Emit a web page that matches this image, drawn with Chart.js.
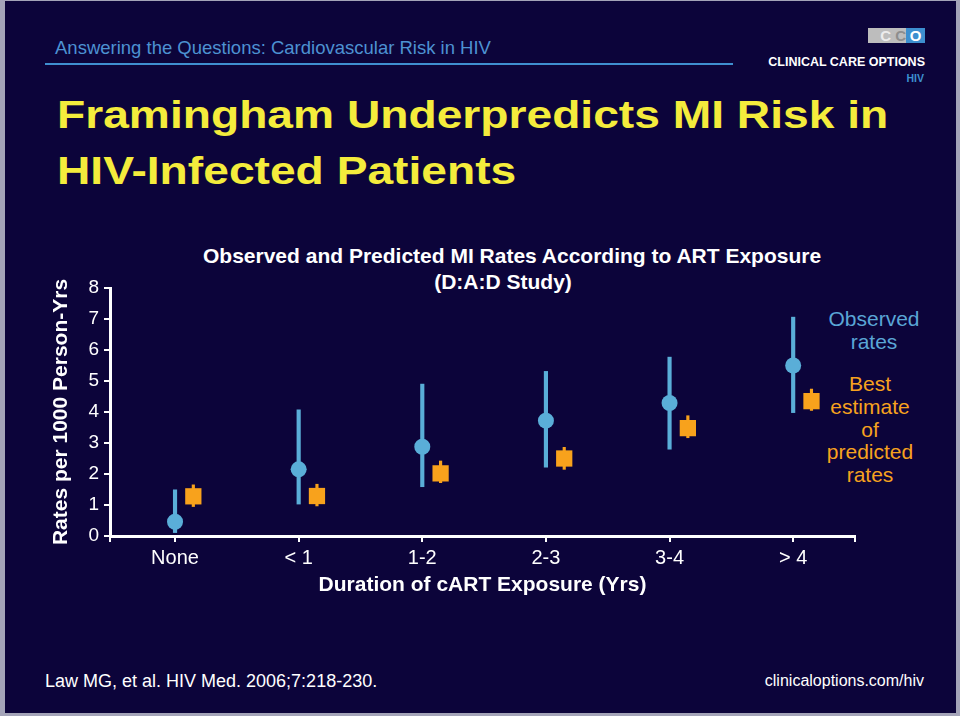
<!DOCTYPE html>
<html>
<head>
<meta charset="utf-8">
<title>Framingham Underpredicts MI Risk in HIV-Infected Patients</title>
<script src="https://cdn.jsdelivr.net/npm/chart.js@4/dist/chart.umd.min.js"></script>
<style>
  html, body { margin: 0; padding: 0; }
  body {
    width: 960px; height: 716px; position: relative; overflow: hidden;
    background: #a4a4b8;
    font-family: 'Liberation Sans', Arial, Helvetica, sans-serif;
  }
  .slide { position: absolute; left: 5px; top: 1px; width: 951px; height: 712px; background: #0c043a; }
  .abs { position: absolute; white-space: nowrap; }
  #header { left: 55px; top: 37px; font-size: 18.5px; line-height: 22px; color: #4d92d2; }
  #headerLine { left: 45px; top: 63px; width: 688px; height: 2px; background: #3f8fd0; }
  #title {
    left: 57px; top: 87px; font-size: 38px; line-height: 56px; font-weight: bold; color: #f4ec3c;
    transform: scaleX(1.215); transform-origin: left top;
  }
  #chartTitle {
    left: 203px; top: 243px; width: 600px; text-align: center;
    font-size: 21px; line-height: 26px; font-weight: bold; color: #ffffff;
  }
  .legendText { width: 130px; text-align: center; font-size: 21px; line-height: 23px; }
  #legObs { left: 809px; top: 307px; color: #5aa6d6; }
  #legPred { left: 805px; top: 373px; color: #f7a21e; line-height: 22.8px; }
  #footLeft { left: 45px; top: 670px; font-size: 18px; line-height: 22px; color: #ffffff; }
  #footRight { right: 36px; top: 670px; font-size: 16px; line-height: 22px; color: #ffffff; }
  #logoGray { left: 868px; top: 28px; width: 38px; height: 15px; background: #bdbdbd;
    font-size: 15px; line-height: 15px; font-weight: bold; text-align: right; }
  #logoBlue { left: 906px; top: 28px; width: 19px; height: 15px; background: #3d8fcf;
    font-size: 15px; line-height: 15px; font-weight: bold; color: #ffffff; text-align: center; }
  #logoText { right: 35px; top: 55px; font-size: 12.5px; line-height: 15px; font-weight: bold; color: #ffffff; }
  #logoHiv { right: 36px; top: 72px; font-size: 10.5px; line-height: 13px; font-weight: bold; color: #3d8fcf; }
  #chartBox { position: absolute; left: 0; top: 240px; width: 960px; height: 380px; }
</style>
</head>
<body>
<div class="slide"></div>
<div class="abs" id="header">Answering the Questions: Cardiovascular Risk in HIV</div>
<div class="abs" id="headerLine"></div>
<div class="abs" id="logoGray"><span style="color:#ececec">C</span> <span style="color:#8e8e8e">C</span></div>
<div class="abs" id="logoBlue">O</div>
<div class="abs" id="logoText">CLINICAL CARE OPTIONS</div>
<div class="abs" id="logoHiv">HIV</div>
<div class="abs" id="title">Framingham Underpredicts MI Risk in<br>HIV-Infected Patients</div>
<div class="abs" id="chartTitle">Observed and Predicted MI Rates According to ART Exposure<br>(D:A:D Study)</div>
<div class="abs legendText" id="legObs">Observed<br>rates</div>
<div class="abs legendText" id="legPred">Best<br>estimate<br>of<br>predicted<br>rates</div>
<div id="chartBox"><canvas id="chart"></canvas></div>
<div class="abs" id="footLeft">Law MG, et al. HIV Med. 2006;7:218-230.</div>
<div class="abs" id="footRight">clinicaloptions.com/hiv</div>

<script>
// values (rates per 1000 person-years)
const categories = ['None', '< 1', '1-2', '2-3', '3-4', '> 4'];
const observed = [0.46, 2.15, 2.88, 3.72, 4.29, 5.5];
const observedLow = [0.11, 1.03, 1.59, 2.22, 2.8, 3.98];
const observedHigh = [1.49, 4.07, 4.9, 5.31, 5.77, 7.06];
const predicted = [1.28, 1.29, 2.02, 2.5, 3.48, 4.35];
const predictedLow = [0.95, 0.97, 1.72, 2.15, 3.17, 4.05];
const predictedHigh = [1.65, 1.67, 2.42, 2.86, 3.88, 4.74];
const yTicks = [0, 1, 2, 3, 4, 5, 6, 7, 8];

const blue = '#5aaed8';
const orange = '#f8a21c';
const predOffset = 0.148; // predicted marker sits just right of the category
const xMin = -0.526, xMax = 5.5;

Chart.defaults.font.family = "'Liberation Sans', Arial, Helvetica, sans-serif";
Chart.defaults.color = '#ffffff';

const ctx = document.getElementById('chart');
new Chart(ctx, {
  type: 'bar',
  data: {
    datasets: [
      {
        type: 'scatter',
        label: 'Observed rates',
        data: categories.map((c, i) => ({ x: i, y: observed[i] })),
        pointStyle: 'circle',
        pointRadius: 8,
        pointBackgroundColor: blue,
        pointBorderWidth: 0,
        order: 0
      },
      {
        type: 'scatter',
        label: 'Best estimate of predicted rates',
        data: categories.map((c, i) => ({ x: i + predOffset, y: predicted[i] })),
        pointStyle: 'rect',
        pointRadius: 11.5,
        pointBackgroundColor: orange,
        pointBorderWidth: 0,
        order: 0
      },
      {
        label: 'Observed range',
        data: categories.map((c, i) => ({ x: i, y: [observedLow[i], observedHigh[i]] })),
        backgroundColor: blue,
        barThickness: 3.5,
        grouped: false,
        order: 1
      },
      {
        label: 'Predicted range',
        data: categories.map((c, i) => ({ x: i + predOffset, y: [predictedLow[i], predictedHigh[i]] })),
        backgroundColor: orange,
        barThickness: 2.5,
        grouped: false,
        order: 1
      }
    ]
  },
  options: {
    responsive: true,
    maintainAspectRatio: false,
    animation: false,
    layout: { padding: { left: 45, top: 48, right: 105, bottom: 18 } },
    plugins: {
      legend: { display: false },
      tooltip: { enabled: false }
    },
    scales: {
      x: {
        type: 'linear',
        min: xMin,
        max: xMax,
        offset: false,
        afterBuildTicks: scale => {
          scale.ticks = [xMin, 0, 1, 2, 3, 4, 5, xMax].map(v => ({ value: v }));
        },
        afterFit: scale => { scale.height = 66; },
        ticks: {
          autoSkip: false,
          maxRotation: 0,
          padding: 4,
          font: { size: 20 },
          color: '#ffffff',
          callback: v => (Number.isInteger(v) && categories[v] !== undefined ? categories[v] : '')
        },
        grid: { offset: false, drawOnChartArea: false, drawTicks: true, tickLength: 6, color: '#ffffff', lineWidth: 2 },
        border: { display: true, color: '#ffffff', width: 3 },
        title: {
          display: true,
          text: 'Duration of cART Exposure (Yrs)',
          font: { size: 21, weight: 'bold' },
          color: '#ffffff',
          padding: { top: 4, bottom: 4 }
        }
      },
      y: {
        min: 0,
        max: 8,
        afterBuildTicks: scale => {
          scale.ticks = yTicks.map(v => ({ value: v }));
        },
        afterFit: scale => { scale.width = 65; },
        ticks: { padding: 5, font: { size: 19 }, color: '#ffffff' },
        grid: { drawOnChartArea: false, drawTicks: true, tickLength: 6, color: '#ffffff', lineWidth: 2 },
        border: { display: true, color: '#ffffff', width: 3 },
        title: {
          display: true,
          text: 'Rates per 1000 Person-Yrs',
          font: { size: 21, weight: 'bold' },
          color: '#ffffff',
          padding: { top: 4, bottom: 4 }
        }
      }
    }
  }
});
</script>
</body>
</html>
